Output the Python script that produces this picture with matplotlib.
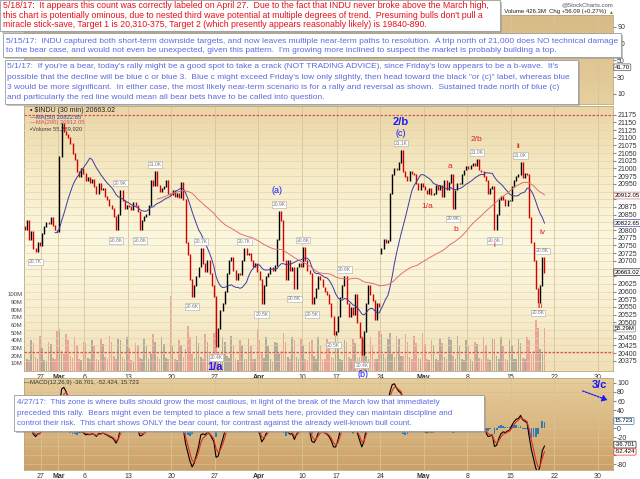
import numpy as np
import pandas as pd
import matplotlib
matplotlib.use("Agg")
import matplotlib.pyplot as plt
import matplotlib.transforms as mtransforms
from matplotlib.colors import LinearSegmentedColormap
from matplotlib.patches import Rectangle, FancyArrowPatch

plt.rcParams["font.family"] = ["Liberation Sans", "DejaVu Sans"]

W, H = 640, 479

first_open = 20810
closes = [
    [20800, 20830, 20770, 20795],  # Feb 23
    [20740, 20730, 20760, 20750],  # Feb 24
    [20790, 20810, 20825, 20820],  # Feb 27
    [20840, 20815, 20800, 20795],  # Feb 28
    [21040, 21145, 21120, 21110],  # Mar 1
    [21100, 21080, 21050, 21030],  # Mar 2
    [20990, 20975, 21000, 20985],  # Mar 3
    [20960, 20970, 20955, 20965],  # Mar 6
    [20940, 20920, 20950, 20930],  # Mar 7
    [20935, 20910, 20900, 20880],  # Mar 8
    [20870, 20845, 20800, 20850],  # Mar 9
    [20930, 20895, 20870, 20880],  # Mar 10
    [20875, 20865, 20890, 20880],  # Mar 13
    [20860, 20800, 20830, 20845],  # Mar 14
    [20850, 20880, 20960, 20945],  # Mar 15
    [20990, 20945, 20925, 20935],  # Mar 16
    [20940, 20960, 20920, 20915],  # Mar 17
    [20930, 20910, 20920, 20905],  # Mar 20
    [20955, 20900, 20760, 20720],  # Mar 21
    [20640, 20585, 20620, 20650],  # Mar 22
    [20680, 20740, 20690, 20665],  # Mar 23
    [20700, 20660, 20620, 20585],  # Mar 24
    [20420, 20480, 20540, 20560],  # Mar 27
    [20600, 20660, 20700, 20710],  # Mar 28
    [20670, 20640, 20660, 20655],  # Mar 29
    [20700, 20740, 20720, 20725],  # Mar 30
    [20700, 20680, 20690, 20665],  # Mar 31
    [20640, 20560, 20620, 20650],  # Apr 3
    [20660, 20680, 20670, 20685],  # Apr 4
    [20770, 20860, 20830, 20700],  # Apr 5
    [20640, 20700, 20670, 20680],  # Apr 6
    [20610, 20680, 20690, 20680],  # Apr 7
    [20745, 20700, 20670, 20660],  # Apr 10
    [20560, 20580, 20610, 20650],  # Apr 11
    [20640, 20615, 20600, 20590],  # Apr 12
    [20560, 20520, 20460, 20470],  # Apr 13
    [20520, 20580, 20620, 20650],  # Apr 17
    [20560, 20520, 20550, 20525],  # Apr 18
    [20590, 20500, 20450, 20395],  # Apr 19
    [20470, 20560, 20620, 20590],  # Apr 20
    [20570, 20510, 20560, 20550],  # Apr 21
    [20740, 20770, 20760, 20765],  # Apr 24
    [20920, 20980, 21000, 20995],  # Apr 25
    [21020, 21060, 20990, 20975],  # Apr 26
    [20960, 20990, 20985, 20980],  # Apr 27
    [20950, 20930, 20950, 20940],  # Apr 28
    [20930, 20920, 20935, 20915],  # May 1
    [20920, 20945, 20930, 20945],  # May 2
    [20910, 20960, 20930, 20955],  # May 3
    [20980, 20870, 20930, 20950],  # May 4
    [20950, 20980, 20995, 21005],  # May 5
    [21000, 21010, 21015, 21010],  # May 8
    [21030, 20995, 20990, 20975],  # May 9
    [20960, 20920, 20935, 20940],  # May 10
    [20800, 20850, 20900, 20910],  # May 11
    [20900, 20880, 20895, 20895],  # May 12
    [20940, 20960, 20975, 20980],  # May 15
    [21020, 20970, 20985, 20980],  # May 16
    [20840, 20760, 20700, 20610],  # May 17
    [20565, 20620, 20710, 20663],  # May 18
]
day_opens = {41: 20725}  # Apr 24 gap open

# volume in millions, same bars
volumes = [
    [34, 16, 14, 40], [36, 18, 15, 46], [30, 14, 13, 38], [35, 17, 16, 52],
    [55, 26, 22, 48], [40, 20, 17, 44], [34, 16, 14, 38], [36, 17, 15, 40],
    [33, 16, 14, 42], [35, 18, 15, 45], [38, 19, 16, 42], [40, 18, 15, 44],
    [30, 14, 13, 36], [34, 17, 15, 42], [32, 16, 24, 48], [38, 18, 15, 44],
    [35, 17, 16, 98], [32, 15, 14, 40], [34, 18, 28, 58], [44, 22, 17, 46],
    [36, 18, 16, 48], [38, 19, 18, 50], [52, 24, 18, 44], [38, 19, 17, 46],
    [32, 15, 14, 40], [34, 16, 15, 42], [33, 16, 15, 55], [40, 22, 17, 44],
    [32, 15, 13, 38], [36, 24, 26, 50], [38, 18, 15, 44], [40, 18, 15, 42],
    [34, 16, 14, 38], [40, 20, 16, 44], [33, 16, 15, 42], [34, 18, 17, 46],
    [32, 15, 14, 40], [38, 18, 15, 42], [36, 17, 18, 46], [40, 19, 16, 44],
    [34, 16, 15, 52], [48, 22, 17, 42], [50, 24, 18, 46], [42, 20, 19, 48],
    [38, 18, 16, 46], [36, 17, 16, 50], [35, 16, 14, 40], [34, 16, 14, 42],
    [36, 18, 16, 44], [40, 19, 16, 46], [33, 15, 14, 40], [32, 15, 13, 38],
    [35, 17, 15, 44], [34, 16, 14, 42], [42, 20, 16, 44], [33, 15, 14, 40],
    [34, 16, 15, 42], [36, 17, 15, 44], [40, 22, 26, 66], [56, 28, 22, 56],
]

tick_days = [2, 4, 7, 12, 17, 22, 27, 32, 36, 41, 46, 51, 56, 61, 66]
tick_labels = ["27", "Mar", "6", "13", "20", "27", "Apr", "10", "17", "24",
               "May", "8", "15", "22", "30"]
price_ticks = list(range(20375, 21200, 25))
vol_ticks = list(range(10, 101, 10))
macd_ticks = list(range(-80, 101, 20))
rsi_ticks = [10, 30, 50, 70, 90]

# last-value boxes on the right edge
price_boxes = [(20912.05, "20912.05", "#e07070"), (20822.65, "20822.65", "#4a4ab0"),
               (20663.02, "20663.02", "#222222")]
vol_box = (55.29, "55.29M")
macd_boxes = [(15.723, "15.723", "#2b7bb9"), (-36.701, "-36.701", "#222222"),
              (-52.424, "-52.424", "#e03020")]

# swing-point tags: (session, bar, text, side)
pivots = [
    (1, 1, "20.7K", "below"), (10, 2, "20.8K", "below"), (11, 0, "20.9K", "above"),
    (13, 1, "20.8K", "below"), (15, 0, "21.0K", "above"), (19, 1, "20.6K", "below"),
    (20, 1, "20.7K", "above"), (22, 0, "20.4K", "below"), (25, 1, "20.7K", "above"),
    (27, 1, "20.5K", "below"), (29, 1, "20.9K", "above"), (31, 0, "20.6K", "below"),
    (32, 0, "20.8K", "above"), (33, 0, "20.5K", "below"), (35, 2, "20.5K", "below"),
    (36, 3, "20.6K", "above"), (38, 3, "20.4K", "below"), (43, 1, "21.1K", "above"),
    (49, 1, "20.9K", "below"), (52, 0, "21.0K", "above"), (54, 0, "20.8K", "below"),
    (57, 0, "21.0K", "above"), (59, 0, "20.6K", "below"), (59, 2, "20.8K", "above"),
]

# wave count labels: (t, price, text, colour, size, weight)
waves = [
    (22.0, 20356, "1/a", "#1a1aff", 8, "bold"),
    (29.1, 20930, "(a)", "#1a1aff", 6.5, "normal"),
    (43.3, 21151, "2/b", "#1a1aff", 8, "bold"),
    (43.3, 21115, "(c)", "#1a1aff", 6.5, "normal"),
    (39.0, 20330, "(b)", "#1a1aff", 6.5, "normal"),
    (49.0, 21005, "a", "#e02020", 6, "normal"),
    (46.4, 20875, "1/a", "#e02020", 6, "normal"),
    (49.7, 20803, "b", "#e02020", 6, "normal"),
    (52.1, 21095, "2/b", "#e02020", 6, "normal"),
    (54.1, 20751, "i", "#e02020", 6, "normal"),
    (56.9, 21073, "ii", "#e02020", 6, "normal"),
    (59.35, 20552, "iii", "#e02020", 5.5, "normal"),
    (59.6, 20793, "iv", "#e02020", 6, "normal"),
]

notes = [
    dict(box=(0, 0, 500, 31), color="#e8101a", x=3, ys=[6, 15.7, 24.7], width=489, lines=[
        "5/18/17:  It appears this count was correctly labeled on April 27.  Due to the fact that INDU never broke above the March high,",
        "this chart is potentially ominous, due to nested third wave potential at multiple degrees of trend.  Presuming bulls don't pull a",
        "miracle stick-save, Target 1 is 20,310-375, Target 2 (which presently appears reasonably likely) is 19840-890."]),
    dict(box=(3, 33, 621, 57), color="#5a6ae0", x=6, ys=[41.7, 51], width=611, lines=[
        "5/15/17:  INDU captured both short-term downside targets, and now leaves multiple near-term paths to resolution.  A trip north of 21,000 does NO technical damage",
        "to the bear case, and would not even be unexpected, given this pattern.  I'm growing more inclined to suspect the market is probably building a top."]),
    dict(box=(5, 60, 578, 104), color="#5a6ae0", x=7, ys=[67, 77.3, 87.5, 97.7], width=565, lines=[
        "5/1/17:  If you're a bear, today's rally might be a good spot to take a crack (NOT TRADING ADVICE), since Friday's low appears to be a b-wave.  It's",
        "possible that the decline will be blue c or blue 3.  Blue c might exceed Friday's low only slightly, then head toward the black \"or (c)\" label, whereas blue",
        "3 would be more significant.  In either case, the most likely near-term scenario is for a rally and reversal as shown.  Sustained trade north of blue (c)",
        "and particularly the red line would mean all bear bets have to be called into question."]),
    dict(box=(14, 395, 484, 431), color="#5a6ae0", x=17, ys=[403, 413.5, 423.5], width=440, lines=[
        "4/27/17:  This zone is where bulls should grow the most cautious, in light of the break of the March low that immediately",
        "preceded this rally.  Bears might even be tempted to place a few small bets here, provided they can maintain discipline and",
        "control their risk.  This chart shows ONLY the bear count, for contrast against the already well-known bull count."]),
]


def px_rect(l, t, r, b):
    return [l / W, 1 - b / H, (r - l) / W, (b - t) / H]


def shade(a, colors):
    cm = LinearSegmentedColormap.from_list("bg", colors)
    a.imshow(np.linspace(0, 1, 200)[:, None], cmap=cm, aspect="auto", origin="upper",
             extent=(0, 1, 0, 1), transform=a.transAxes, zorder=0)


def frame(a):
    for sp in a.spines.values():
        sp.set_color("#bba77c")
        sp.set_linewidth(0.6)


def date_axis(a, labels=True):
    a.set_xlim(0.05, 67.75)
    a.set_xticks(tick_days)
    a.set_xticklabels(tick_labels if labels else [])
    a.tick_params(axis="x", length=0, pad=2, labelsize=5, labelcolor="#333333")
    for lab in a.get_xticklabels():
        if lab.get_text() in ("Mar", "Apr", "May"):
            lab.set_fontweight("bold")
    a.grid(axis="x", color="#d6c496", lw=0.6)


def right_ticks(a, ticks, covered, gap):
    # tick labels sitting under a last-value box are hidden, as on the original
    a.yaxis.tick_right()
    a.set_yticks(ticks)
    a.set_yticklabels([str(v) if all(abs(v - b) > gap for b in covered) else "" for v in ticks])
    a.tick_params(axis="y", length=2, pad=1, labelsize=5, labelcolor="#333333", color="#888888")


def value_box(a, val, txt, ec):
    bt = mtransforms.blended_transform_factory(a.transAxes, a.transData)
    a.annotate(txt, xy=(1.003, val), xycoords=bt, fontsize=4.3, va="center", ha="left",
               annotation_clip=False, zorder=8,
               bbox=dict(boxstyle="round,pad=0.15", fc="white", ec=ec, lw=0.5))


c = np.array(closes, float).ravel()
o = np.r_[first_open, c[:-1]]
for d, v in day_opens.items():
    o[d * 4] = v
vol = np.array(volumes, float).ravel()
t = np.arange(len(c)) / 4 + 0.125
up = c >= o

s = pd.Series(c)
ma50 = s.rolling(15).mean()
ma200 = s.rolling(62).mean()
macd = s.ewm(span=3.7, adjust=False).mean() - s.ewm(span=8, adjust=False).mean()
signal = macd.ewm(span=2.8, adjust=False).mean()
hist = macd - signal

fig = plt.figure(figsize=(W / 100, H / 100), dpi=100)

# ---- upper indicator strip (mostly covered by the notes)
ax_rsi = fig.add_axes(px_rect(24, 15, 613, 104))
shade(ax_rsi, ["#d8bb86", "#e6d09f"])
ax_rsi.set_ylim(-2, 104)
right_ticks(ax_rsi, rsi_ticks, [], 0)
date_axis(ax_rsi, labels=False)
frame(ax_rsi)
value_box(ax_rsi, 41.7, "41.70", "#555555")

# ---- price panel: volume layer underneath, candles on top
axv = fig.add_axes(px_rect(24, 106, 613, 371))
shade(axv, ["#ead5a6", "#f6ebc6", "#fcf7e0", "#f9f0d2", "#efe0b6"])
axv.bar(t[up], vol[up], width=0.18, color="#a49c92", alpha=0.8, zorder=2)
axv.bar(t[~up], vol[~up], width=0.18, color="#e79a96", alpha=0.85, zorder=2)
axv.set_ylim(0, 345)
axv.set_yticks(vol_ticks)
axv.set_yticklabels([f"{v}M" for v in vol_ticks])
axv.tick_params(axis="y", length=0, pad=1, labelsize=4.3, labelcolor="#444444")
date_axis(axv, labels=False)
frame(axv)

ax = fig.add_axes(px_rect(24, 106, 613, 371))
ax.patch.set_visible(False)
ax.set_ylim(20342, 21203)
# price level where the volume box sits, so the ticks under it are hidden too
vol_box_price = ax.get_ylim()[0] + vol_box[0] / 345 * (ax.get_ylim()[1] - ax.get_ylim()[0])
right_ticks(ax, price_ticks, [b[0] for b in price_boxes] + [vol_box_price], 14)
ax.grid(axis="y", color="#e4d5ad", lw=0.5, zorder=1)
date_axis(ax)
ax.grid(axis="x", visible=False)
for sp in ax.spines.values():
    sp.set_visible(False)

ax.axhline(21175, color="#e05050", lw=0.9, ls=(0, (2, 1.2)), zorder=3)
ax.axhline(20405, color="#e05050", lw=0.9, ls=(0, (2, 1.2)), zorder=3)

lo = np.minimum(o, c) - 1.5
hi = np.maximum(o, c) + 1.5
ax.vlines(t[up], lo[up], hi[up], color="black", lw=1.0, zorder=4)
ax.vlines(t[~up], lo[~up], hi[~up], color="#d40000", lw=1.0, zorder=4)
ax.plot(t, ma50, color="#3b3ba6", lw=0.7, zorder=5)
ax.plot(t, ma200, color="#e07070", lw=0.7, zorder=5)

for d, b, txt, side in pivots:
    i = d * 4 + b
    ax.annotate(txt, xy=(t[i], c[i]), xytext=(0, 5 if side == "above" else -7.5),
                textcoords="offset points", ha="center", va="center", fontsize=3.6,
                color="#777777", zorder=6,
                bbox=dict(boxstyle="square,pad=0.15", fc="white", ec="#a8a8a8", lw=0.4))

for wt, wp, txt, col, size, weight in waves:
    ax.text(wt, wp, txt, color=col, fontsize=size, fontweight=weight, ha="center",
            va="center", zorder=7, clip_on=False)

ax.text(0.01, 0.982, "\u25aa $INDU (30 min) 20663.02", transform=ax.transAxes, fontsize=5,
        color="#222222", va="center")
ax.text(0.01, 0.958, "\u2014MA(50) 20822.65", transform=ax.transAxes, fontsize=4.2, color="#3b3ba6", va="center")
ax.text(0.01, 0.936, "\u2014MA(200) 20912.05", transform=ax.transAxes, fontsize=4.2, color="#d05050", va="center")
ax.text(0.01, 0.914, "\u25aaVolume 55,289,920", transform=ax.transAxes, fontsize=4.2, color="#444444", va="center")

for val, txt, ec in price_boxes:
    value_box(ax, val, txt, ec)
value_box(axv, vol_box[0], vol_box[1], "#888888")

# ---- MACD panel
ax_m = fig.add_axes(px_rect(24, 378, 613, 470))
shade(ax_m, ["#e6cd9c", "#dbb882", "#cba068"])
ax_m.bar(t, hist, width=0.2, color="#2b7bb9", zorder=3)
ax_m.plot(t, macd, color="black", lw=0.8, zorder=4)
ax_m.plot(t, signal, color="#e03020", lw=0.8, zorder=4)
ax_m.set_ylim(-93, 111)
right_ticks(ax_m, macd_ticks, [b[0] for b in macd_boxes], 9)
ax_m.grid(axis="y", color="#d8c08e", lw=0.5)
date_axis(ax_m)
frame(ax_m)
ax_m.text(0.0, 0.95, "\u2014MACD(12,26,9) -36.701, -52.424, 15.723", transform=ax_m.transAxes,
          fontsize=4.3, color="#333333", va="center")
for val, txt, ec in macd_boxes:
    value_box(ax_m, val, txt, ec)

# ---- header bits (left part of the quote line runs under the red note)
fig.text(613 / W, 1 - 5 / H, "@StockCharts.com", fontsize=4.3, color="#555555", ha="right", va="center")
hdr = fig.text(606 / W, 1 - 12 / H, "20663.02  Volume 426.3M  Chg +56.09 (+0.27%)",
               fontsize=4.3, color="#222222", ha="right", va="center")
hdr.set_clip_box(mtransforms.TransformedBbox(
    mtransforms.Bbox([[501 / W, 0], [1, 1]]), fig.transFigure))
fig.text(608 / W, 1 - 12 / H, "\u25b2", fontsize=3.5, color="#20a020", ha="left", va="center")

# ---- commentary boxes
renderer = fig.canvas.get_renderer()
for n in notes:
    l, tp, r, b = n["box"]
    fig.add_artist(Rectangle(((l + 2) / W, 1 - (b + 2) / H), (r - l) / W, (b - tp) / H,
                             transform=fig.transFigure, fc="#9a9a9a", ec="none", alpha=0.6, zorder=9))
    fig.add_artist(Rectangle((l / W, 1 - b / H), (r - l) / W, (b - tp) / H,
                             transform=fig.transFigure, fc="white", ec="#9a9a9a", lw=0.6, zorder=10))
    probe = fig.text(0, 0, max(n["lines"], key=len), fontsize=6)
    fs = 6 * n["width"] / probe.get_window_extent(renderer).width
    probe.remove()
    for line, y in zip(n["lines"], n["ys"]):
        fig.text(n["x"] / W, 1 - y / H, line, fontsize=fs, color=n["color"], ha="left",
                 va="center", zorder=11)

fig.text(599 / W, 1 - 384.5 / H, "3/c", fontsize=8, fontweight="bold", color="#1a1aff",
         ha="center", va="center", zorder=12)
fig.add_artist(FancyArrowPatch(
    (580 / W, 1 - 390 / H), (610 / W, 1 - 401 / H), transform=fig.transFigure,
    arrowstyle="-|>,head_length=3,head_width=2", color="#1a1aff", lw=0.9,
    linestyle=(0, (1.5, 1)), zorder=12))

fig.savefig("out.png", dpi=100)
